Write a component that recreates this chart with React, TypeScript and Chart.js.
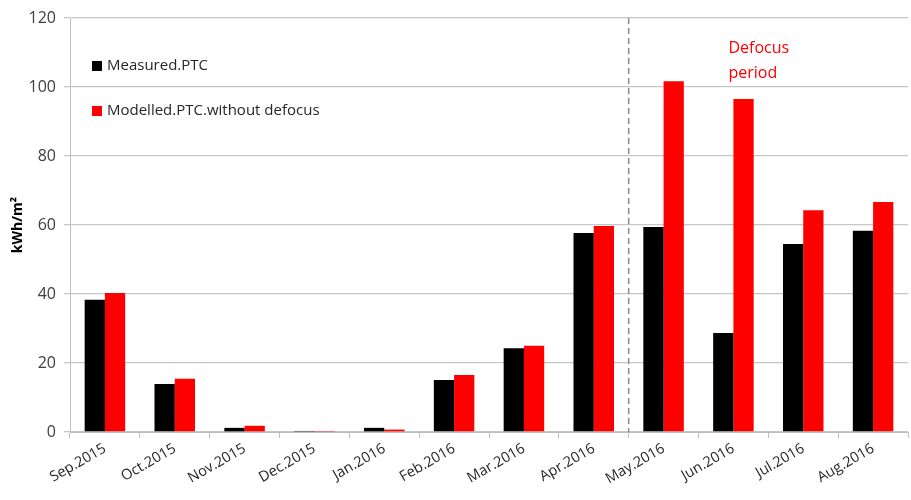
import React, { useEffect, useRef } from "react";
import { Chart, registerables } from "chart.js";

Chart.register(...registerables);

const categories = [
  "Sep.2015", "Oct.2015", "Nov.2015", "Dec.2015", "Jan.2016", "Feb.2016",
  "Mar.2016", "Apr.2016", "May.2016", "Jun.2016", "Jul.2016", "Aug.2016",
];
const measured = [38.3, 13.9, 1.2, 0.3, 1.2, 15.1, 24.3, 57.7, 59.4, 28.7, 54.5, 58.3];
const modelled = [40.3, 15.4, 1.8, 0.3, 0.7, 16.5, 25.0, 59.7, 101.7, 96.5, 64.3, 66.7];
const seriesNames = ["Measured.PTC", "Modelled.PTC.without defocus"];
const seriesColors = ["#000000", "#ff0000"];
const annotationLines = ["Defocus", "period"];
const yTitle = "kWh/m²";

const FONT = "'Open Sans', 'Liberation Sans', sans-serif";

const overlayPlugin = {
  id: "overlay",
  afterDatasetsDraw(chart: any) {
    const { ctx, chartArea, scales } = chart;
    const x = scales.x;
    ctx.save();
    const xd = (x.getPixelForValue(7) + x.getPixelForValue(8)) / 2;
    ctx.strokeStyle = "#8c8c8c";
    ctx.lineWidth = 1.5;
    ctx.setLineDash([6, 4]);
    ctx.beginPath();
    ctx.moveTo(xd, chartArea.top);
    ctx.lineTo(xd, chartArea.bottom);
    ctx.stroke();
    ctx.setLineDash([]);
    ctx.fillStyle = "#ff0000";
    ctx.font = `16px ${FONT}`;
    ctx.textAlign = "left";
    ctx.textBaseline = "middle";
    const ax = x.getPixelForValue(9) - 5;
    ctx.fillText(annotationLines[0], ax, 48);
    ctx.fillText(annotationLines[1], ax, 73);
    ctx.font = `15px ${FONT}`;
    const lx = chartArea.left + 22;
    const ly = [66, 111];
    seriesNames.forEach((n, i) => {
      ctx.fillStyle = seriesColors[i];
      ctx.fillRect(lx, ly[i] - 5, 10, 10);
      ctx.fillStyle = "#262626";
      ctx.fillText(n, lx + 15, ly[i]);
    });
    ctx.restore();
  },
};

export default function App() {
  const ref = useRef<HTMLCanvasElement>(null);
  useEffect(() => {
    if (!ref.current) return;
    const chart = new Chart(ref.current, {
      type: "bar",
      data: {
        labels: categories,
        datasets: [
          { label: seriesNames[0], data: measured, backgroundColor: seriesColors[0] },
          { label: seriesNames[1], data: modelled, backgroundColor: seriesColors[1] },
        ],
      },
      options: {
        animation: false,
        responsive: true,
        maintainAspectRatio: false,
        layout: { padding: { top: 18, right: 3, left: 6, bottom: 0 } },
        datasets: { bar: { categoryPercentage: 0.58, barPercentage: 1.0 } },
        plugins: { legend: { display: false }, tooltip: { enabled: false } },
        scales: {
          x: {
            grid: { display: true, drawOnChartArea: false, offset: true, tickLength: 6, color: "#bfbfbf" },
            border: { color: "#bfbfbf" },
            ticks: {
              minRotation: 30,
              maxRotation: 30,
              color: "#262626",
              font: { family: FONT, size: 14.5 },
              padding: 2,
            },
            afterFit: (s: any) => { s.height = 68; },
          },
          y: {
            min: 0,
            max: 120,
            ticks: { stepSize: 20, color: "#404040", font: { family: FONT, size: 16 }, padding: 8 },
            grid: { color: "#c6c6c6", tickLength: 6, lineWidth: 1.3 },
            border: { color: "#bfbfbf" },
            title: { display: true, text: yTitle, color: "#000", font: { family: FONT, size: 14, weight: "bold" } },
            afterFit: (s: any) => { s.width = 64; },
          },
        },
      },
      plugins: [overlayPlugin],
    });
    return () => chart.destroy();
  }, []);
  return (
    <div style={{ position: "absolute", left: 0, top: 0, width: 911, height: 500, background: "#fff" }}>
      <canvas ref={ref} />
    </div>
  );
}
